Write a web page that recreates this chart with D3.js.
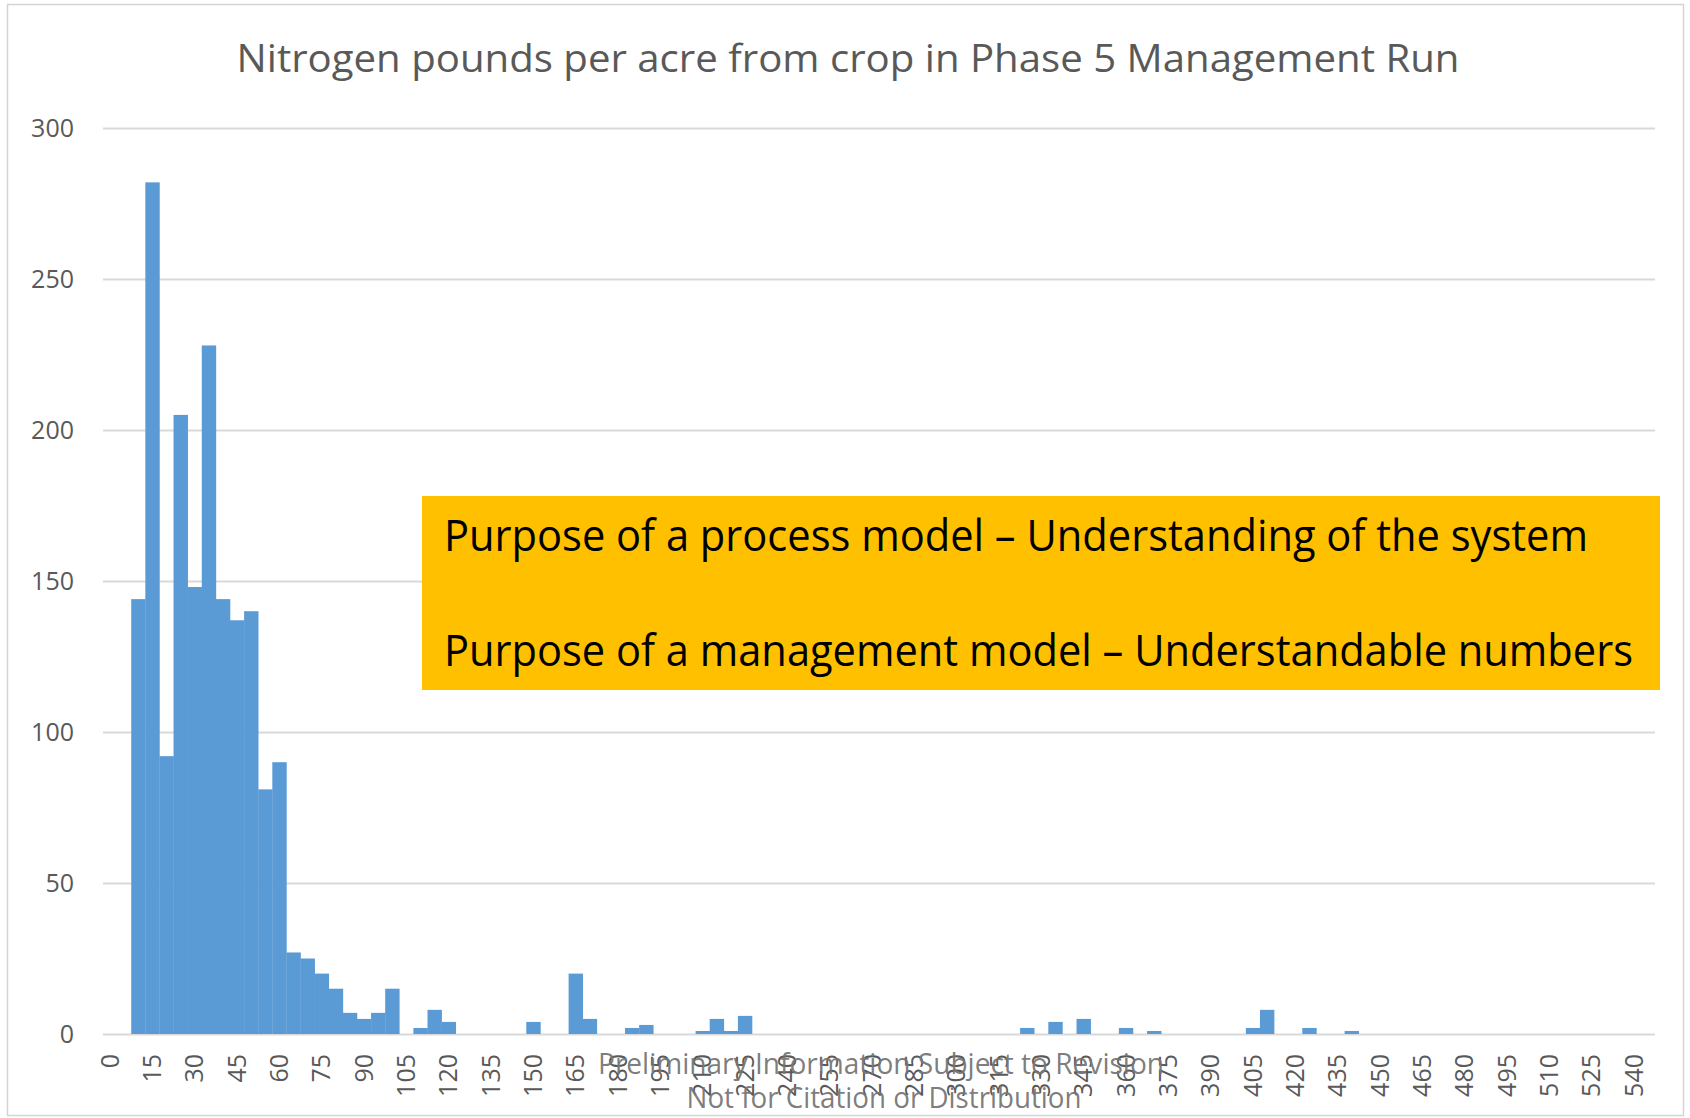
<!DOCTYPE html>
<html lang="en">
<head>
  <meta charset="UTF-8">
  <title>Nitrogen pounds per acre from crop</title>
  <script src="https://d3js.org/d3.v7.min.js"></script>
  <style>
    body { margin: 0; background: #fff; font-family: "Open Sans", sans-serif; }
    svg { display: block; }
  </style>
</head>
<body>
  <svg width="1690" height="1118"></svg>
  <script>
    // histogram bins (lb N / acre), 5 wide
    const bins = [
      0, 5, 10, 15, 20, 25, 30, 35, 40, 45,
      50, 55, 60, 65, 70, 75, 80, 85, 90, 95,
      100, 105, 110, 115, 120, 125, 130, 135, 140, 145,
      150, 155, 160, 165, 170, 175, 180, 185, 190, 195,
      200, 205, 210, 215, 220, 225, 230, 235, 240, 245,
      250, 255, 260, 265, 270, 275, 280, 285, 290, 295,
      300, 305, 310, 315, 320, 325, 330, 335, 340, 345,
      350, 355, 360, 365, 370, 375, 380, 385, 390, 395,
      400, 405, 410, 415, 420, 425, 430, 435, 440, 445,
      450, 455, 460, 465, 470, 475, 480, 485, 490, 495,
      500, 505, 510, 515, 520, 525, 530, 535, 540, 545
    ];
    // number of segments in each bin
    const counts = [
      0, 0, 144, 282, 92, 205, 148, 228, 144, 137,
      140, 81, 90, 27, 25, 20, 15, 7, 5, 7,
      15, 0, 2, 8, 4, 0, 0, 0, 0, 0,
      4, 0, 0, 20, 5, 0, 0, 2, 3, 0,
      0, 0, 1, 5, 1, 6, 0, 0, 0, 0,
      0, 0, 0, 0, 0, 0, 0, 0, 0, 0,
      0, 0, 0, 0, 0, 2, 0, 4, 0, 5,
      0, 0, 2, 0, 1, 0, 0, 0, 0, 0,
      0, 2, 8, 0, 0, 2, 0, 0, 1, 0,
      0, 0, 0, 0, 0, 0, 0, 0, 0, 0,
      0, 0, 0, 0, 0, 0, 0, 0, 0, 0
    ];
    const xTickLabels = [0, 15, 30, 45, 60, 75, 90, 105, 120, 135, 150, 165, 180, 195,
      210, 225, 240, 255, 270, 285, 300, 315, 330, 345, 360, 375, 390, 405, 420, 435,
      450, 465, 480, 495, 510, 525, 540];
    const yTicks = [0, 50, 100, 150, 200, 250, 300];

    const title = "Nitrogen pounds per acre from crop in Phase 5 Management Run";
    const calloutLines = [
      "Purpose of a process model \u2013 Understanding of the system",
      "Purpose of a management model \u2013 Understandable numbers"
    ];
    const watermark = [
      "Preliminary Information Subject to Revision",
      "Not for Citation or Distribution"
    ];

    const svg = d3.select("svg");
    const plotLeft = 103, plotRight = 1655, plotTop = 128, plotBottom = 1034;
    const textColor = "#595959";

    // chart frame
    svg.append("rect")
      .attr("x", 7.5).attr("y", 4.5)
      .attr("width", 1676).attr("height", 1111)
      .attr("fill", "#fff")
      .attr("stroke", "#d4d4d4").attr("stroke-width", 1.5);

    const x = d3.scaleBand().domain(bins).range([plotLeft, plotRight]).padding(0);
    const y = d3.scaleLinear().domain([0, 300]).range([plotBottom, plotTop]);

    // gridlines
    svg.append("g").selectAll("line")
      .data(yTicks)
      .join("line")
      .attr("x1", plotLeft).attr("x2", plotRight)
      .attr("y1", d => Math.round(y(d)) + 0.5)
      .attr("y2", d => Math.round(y(d)) + 0.5)
      .attr("stroke", "#d9d9d9").attr("stroke-width", 2);

    // y labels
    svg.append("g").selectAll("text")
      .data(yTicks)
      .join("text")
      .attr("x", 74)
      .attr("y", d => y(d))
      .attr("dy", "0.35em")
      .attr("text-anchor", "end")
      .attr("font-size", 25)
      .attr("fill", textColor)
      .text(d => d);

    // bars
    svg.append("g").selectAll("rect")
      .data(bins.map((b, i) => ({ bin: b, n: counts[i] })).filter(d => d.n > 0))
      .join("rect")
      .attr("x", d => x(d.bin))
      .attr("width", x.bandwidth() + 0.3)
      .attr("y", d => y(d.n))
      .attr("height", d => y(0) - y(d.n))
      .attr("fill", "#5b9bd5");

    // x labels, rotated
    svg.append("g").selectAll("text")
      .data(xTickLabels)
      .join("text")
      .attr("transform", d => `translate(${x(d) + x.bandwidth() / 2},1054) rotate(-90)`)
      .attr("dy", "0.35em")
      .attr("text-anchor", "end")
      .attr("font-size", 25)
      .attr("fill", textColor)
      .text(d => d);

    // title
    svg.append("text")
      .attr("x", 848).attr("y", 72)
      .attr("text-anchor", "middle")
      .attr("font-size", 38)
      .attr("fill", textColor)
      .attr("textLength", 1223)
      .attr("lengthAdjust", "spacingAndGlyphs")
      .text(title);

    // yellow callout
    svg.append("rect")
      .attr("x", 422).attr("y", 496)
      .attr("width", 1238).attr("height", 194)
      .attr("fill", "#ffc000");

    svg.append("g").selectAll("text")
      .data(calloutLines)
      .join("text")
      .attr("x", 444)
      .attr("y", (d, i) => 551 + i * 115)
      .attr("font-size", 44)
      .attr("fill", "#000")
      .attr("textLength", (d, i) => [1144, 1189][i])
      .attr("lengthAdjust", "spacingAndGlyphs")
      .text(d => d);

    // watermark over the axis labels (overlap is as in the original slide)
    svg.append("g").selectAll("text")
      .data(watermark)
      .join("text")
      .attr("x", (d, i) => [881, 884][i])
      .attr("y", (d, i) => [1074, 1108][i])
      .attr("text-anchor", "middle")
      .attr("font-size", 30)
      .attr("fill", "#767676")
      .attr("fill-opacity", 0.95)
      .attr("textLength", (d, i) => [566, 395][i])
      .attr("lengthAdjust", "spacingAndGlyphs")
      .text(d => d);
  </script>
</body>
</html>
